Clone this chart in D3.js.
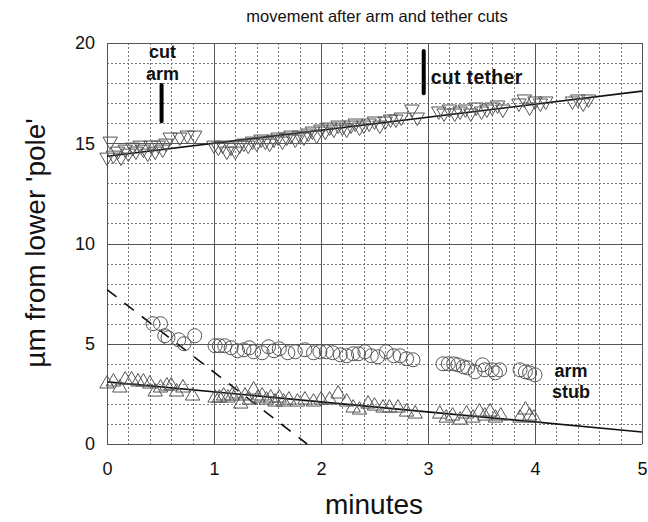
<!DOCTYPE html>
<html>
<head>
<meta charset="utf-8">
<script src="https://cdn.jsdelivr.net/npm/d3@7"></script>
<style>
  body { margin: 0; background: #fff; }
  text { font-family: "Liberation Sans", Arial, sans-serif; fill: #111; }
</style>
</head>
<body>
<svg id="chart" width="648" height="522"></svg>
<script>
// tether side (down triangles): [minutes, µm]
const tetherPts = [
  [0.00,14.3],[0.03,15.1],[0.06,14.4],[0.10,14.6],[0.13,14.3],[0.17,14.7],[0.20,14.5],[0.24,14.8],
  [0.27,14.6],[0.31,14.9],[0.34,14.7],[0.38,14.5],[0.41,14.9],[0.45,14.6],[0.48,14.9],[0.52,14.7],
  [0.55,15.0],[0.59,15.3],[0.68,15.3],[0.75,15.4],[0.82,15.4],
  [1.00,14.9],[1.04,14.8],[1.08,14.9],[1.12,14.6],[1.16,14.8],[1.20,14.6],[1.24,14.9],[1.28,15.0],
  [1.32,14.9],[1.36,15.1],[1.40,15.0],[1.44,15.2],[1.48,15.1],[1.52,15.0],[1.56,15.2],[1.60,15.3],
  [1.64,15.1],[1.68,15.3],[1.72,15.4],[1.76,15.2],[1.80,15.4],[1.84,15.3],[1.88,15.5],[1.92,15.6],
  [1.96,15.4],[2.00,15.7],[2.04,15.6],[2.08,15.8],[2.12,15.7],[2.16,15.9],[2.20,15.8],[2.24,15.7],
  [2.28,15.9],[2.32,16.0],[2.36,15.8],[2.40,15.9],[2.45,16.0],[2.50,16.1],[2.55,15.9],[2.60,16.1],
  [2.65,16.2],[2.70,16.2],[2.75,16.3],[2.85,16.7],[2.90,16.3],
  [3.10,16.6],[3.15,16.5],[3.20,16.7],[3.25,16.5],[3.30,16.6],[3.35,16.7],[3.40,16.5],[3.45,16.8],
  [3.50,16.6],[3.55,16.7],[3.60,16.8],[3.65,16.9],[3.70,16.7],[3.85,17.0],[3.90,17.2],[3.95,16.8],
  [4.00,17.1],[4.05,17.0],[4.10,17.1],[4.35,17.1],[4.40,17.2],[4.45,17.0],[4.50,17.2]
];
// cut arm (circles)
const armPts = [
  [0.43,6.0],[0.50,6.0],[0.54,5.4],[0.57,5.3],[0.67,5.2],[0.72,5.0],[0.82,5.4],
  [1.01,4.9],[1.05,4.9],[1.10,4.9],[1.16,4.8],[1.22,4.65],[1.28,4.7],[1.33,4.8],[1.37,4.6],
  [1.45,4.55],[1.51,4.85],[1.56,4.65],[1.61,4.75],[1.69,4.55],[1.76,4.6],[1.85,4.7],[1.93,4.55],
  [1.99,4.6],[2.05,4.6],[2.11,4.55],[2.18,4.45],[2.24,4.4],[2.30,4.5],[2.35,4.5],[2.41,4.6],
  [2.47,4.4],[2.53,4.35],[2.61,4.6],[2.68,4.4],[2.74,4.4],[2.80,4.25],[2.86,4.2],
  [3.14,4.0],[3.19,4.0],[3.24,4.0],[3.28,3.95],[3.33,3.85],[3.37,3.8],[3.44,3.6],[3.51,3.95],
  [3.53,3.7],[3.60,3.7],[3.63,3.55],[3.67,3.7],[3.86,3.7],[3.91,3.6],[3.95,3.55],[4.00,3.45]
];
// arm stub (up triangles)
const stubPts = [
  [0.00,3.0],[0.06,3.1],[0.12,2.8],[0.17,3.2],[0.23,3.2],[0.29,3.1],[0.34,3.1],[0.40,3.0],
  [0.45,2.6],[0.50,2.8],[0.56,2.9],[0.60,2.9],[0.65,2.6],[0.71,2.8],[0.80,2.4],
  [1.01,2.3],[1.05,2.3],[1.09,2.4],[1.13,2.3],[1.17,2.4],[1.21,2.5],[1.25,2.0],[1.29,2.4],
  [1.33,2.2],[1.37,2.7],[1.41,2.3],[1.45,2.4],[1.49,2.2],[1.53,2.3],[1.57,2.1],[1.61,2.3],
  [1.65,2.1],[1.70,2.2],[1.78,2.1],[1.85,2.2],[1.93,2.1],[2.00,2.2],[2.08,2.2],[2.16,2.5],
  [2.24,2.1],[2.30,1.8],[2.36,1.7],[2.44,2.0],[2.50,1.9],[2.58,1.8],[2.64,1.8],[2.72,1.8],
  [2.80,1.6],[2.88,1.5],
  [3.11,1.5],[3.17,1.3],[3.23,1.4],[3.30,1.2],[3.36,1.5],[3.42,1.3],[3.48,1.6],
  [3.53,1.4],[3.58,1.6],[3.63,1.3],[3.68,1.4],[3.86,1.3],[3.91,1.7],[3.95,1.4],[3.99,1.3]
];
// fitted lines: [x0, y0, x1, y1]
const tetherFit = [0, 14.35, 5, 17.6];
const stubFit = [0, 3.1, 5, 0.6];
const armFit = [0, 7.7, 1.87, 0];
// cut marks: [minute, yFrom, yTo]
const cutArm = [0.51, 16.1, 17.9];
const cutTether = [2.96, 17.5, 19.6];

const xTicks = [0, 1, 2, 3, 4, 5];
const yTicks = [0, 5, 10, 15, 20];

const svg = d3.select("#chart");
const L = 107, R = 642, T = 43, B = 444;
const x = d3.scaleLinear().domain([0, 5]).range([L, R]);
const y = d3.scaleLinear().domain([0, 20]).range([B, T]);

// minor grid (dotted)
const g = svg.append("g");
g.selectAll(".mx").data(d3.range(0, 5.001, 0.2).filter(v => Math.abs(v - Math.round(v)) > 0.01))
  .enter().append("line")
  .attr("x1", d => Math.round(x(d)) + 0.5).attr("x2", d => Math.round(x(d)) + 0.5)
  .attr("y1", T).attr("y2", B)
  .attr("stroke", "#777").attr("stroke-dasharray", "2,2");
g.selectAll(".my").data(d3.range(1, 20).filter(v => v % 5 !== 0))
  .enter().append("line")
  .attr("y1", d => Math.round(y(d)) + 0.5).attr("y2", d => Math.round(y(d)) + 0.5)
  .attr("x1", L).attr("x2", R)
  .attr("stroke", "#777").attr("stroke-dasharray", "2,2");

// major grid
g.selectAll(".Mx").data(xTicks).enter().append("line")
  .attr("x1", d => Math.round(x(d)) + 0.5).attr("x2", d => Math.round(x(d)) + 0.5)
  .attr("y1", T).attr("y2", B).attr("stroke", "#555");
g.selectAll(".My").data(yTicks).enter().append("line")
  .attr("y1", d => Math.round(y(d)) + 0.5).attr("y2", d => Math.round(y(d)) + 0.5)
  .attr("x1", L).attr("x2", R).attr("stroke", "#555");

// axes (labels only)
const xAxis = svg.append("g").attr("transform", `translate(0,${B})`)
  .call(d3.axisBottom(x).tickValues(xTicks).tickSize(0).tickPadding(18).tickFormat(d3.format("d")));
const yAxis = svg.append("g").attr("transform", `translate(${L},0)`)
  .call(d3.axisLeft(y).tickValues(yTicks).tickSize(0).tickPadding(12).tickFormat(d3.format("d")));
[xAxis, yAxis].forEach(a => {
  a.select(".domain").remove();
  a.selectAll("text").attr("font-size", 18).attr("fill", "#111")
    .attr("font-family", "'Liberation Sans', Arial, sans-serif");
});

// fit lines
const fitLine = (f, dash) => svg.append("line")
  .attr("x1", x(f[0])).attr("y1", y(f[1])).attr("x2", x(f[2])).attr("y2", y(f[3]))
  .attr("stroke", "#111").attr("stroke-width", 1.6)
  .attr("stroke-dasharray", dash || null);
fitLine(tetherFit);
fitLine(stubFit);
fitLine(armFit, "12,10");

// markers
const tri = d3.symbol().type(d3.symbolTriangle).size(90);
svg.append("g").selectAll("path").data(tetherPts).enter().append("path")
  .attr("d", tri)
  .attr("transform", d => `translate(${x(d[0])},${y(d[1])}) rotate(180)`)
  .attr("fill", "none").attr("stroke", "#555").attr("stroke-width", 1);
svg.append("g").selectAll("path").data(stubPts).enter().append("path")
  .attr("d", tri)
  .attr("transform", d => `translate(${x(d[0])},${y(d[1])})`)
  .attr("fill", "none").attr("stroke", "#555").attr("stroke-width", 1);
svg.append("g").selectAll("circle").data(armPts).enter().append("circle")
  .attr("cx", d => x(d[0])).attr("cy", d => y(d[1])).attr("r", 7)
  .attr("fill", "none").attr("stroke", "#555").attr("stroke-width", 1);

// cut marks
[cutArm, cutTether].forEach(c => {
  svg.append("line")
    .attr("x1", x(c[0])).attr("x2", x(c[0]))
    .attr("y1", y(c[1])).attr("y2", y(c[2]))
    .attr("stroke", "#000").attr("stroke-width", 4).attr("stroke-linecap", "round");
});

const bold = (t, px, py, size, anchor) => svg.append("text")
  .attr("x", px).attr("y", py).attr("text-anchor", anchor || "middle")
  .attr("font-size", size).attr("font-weight", "bold").text(t);
bold("cut", x(cutArm[0]) + 1, 58, 18);
bold("arm", x(cutArm[0]) + 1, 80, 18);
bold("cut tether", x(cutTether[0]) + 7, 84, 19.5, "start").attr("letter-spacing", 0.3);
bold("arm", 571, 377, 18);
bold("stub", 571, 398, 18);

// titles
svg.append("text").attr("x", 377).attr("y", 22).attr("text-anchor", "middle")
  .attr("font-size", 16.5).text("movement after arm and tether cuts");
svg.append("text").attr("x", 374).attr("y", 514).attr("text-anchor", "middle")
  .attr("font-size", 28).text("minutes");
svg.append("text").attr("transform", "translate(45,243) rotate(-90)")
  .attr("text-anchor", "middle").attr("font-size", 28).text("µm from lower 'pole'");
</script>
</body>
</html>
